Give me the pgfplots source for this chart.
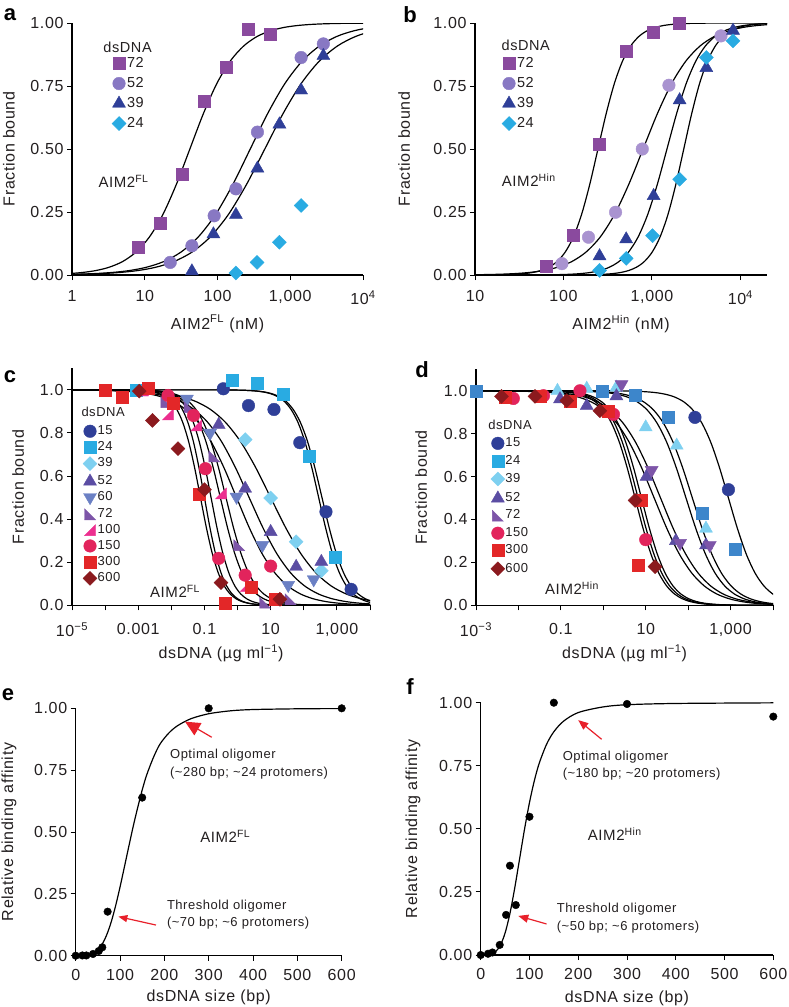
\documentclass[border=0pt]{standalone}
\usepackage{fontspec}
\setmainfont{Liberation Sans}[LetterSpace=4]
\usepackage{pgfplots}
\usepackage{pgfplotstable}
\pgfplotsset{compat=1.18}
\usetikzlibrary{arrows.meta}

\definecolor{pA}{HTML}{8A4A9E}
\definecolor{lvA}{HTML}{8878C3}
\definecolor{lvB}{HTML}{A993D0}
\definecolor{dB}{HTML}{2F3F98}
\definecolor{cy}{HTML}{29ABE2}
\definecolor{lc}{HTML}{7ED0F0}
\definecolor{p52}{HTML}{5B4DA3}
\definecolor{s60}{HTML}{6B80C4}
\definecolor{p72}{HTML}{7D55A8}
\definecolor{m100}{HTML}{EC2F8F}
\definecolor{c150}{HTML}{E2245C}
\definecolor{r300}{HTML}{E32728}
\definecolor{d600}{HTML}{8B1A1E}
\definecolor{b24d}{HTML}{3D86CB}
\definecolor{arr}{HTML}{E8202A}
\definecolor{txt}{HTML}{231F20}

\pgfdeclareplotmark{ltri}{%
 \pgfpathmoveto{\pgfqpoint{-\pgfplotmarksize}{\pgfplotmarksize}}%
 \pgfpathlineto{\pgfqpoint{-\pgfplotmarksize}{-\pgfplotmarksize}}%
 \pgfpathlineto{\pgfqpoint{\pgfplotmarksize}{-\pgfplotmarksize}}%
 \pgfpathclose\pgfusepathqfillstroke}
\pgfdeclareplotmark{rtri}{%
 \pgfpathmoveto{\pgfqpoint{\pgfplotmarksize}{\pgfplotmarksize}}%
 \pgfpathlineto{\pgfqpoint{\pgfplotmarksize}{-\pgfplotmarksize}}%
 \pgfpathlineto{\pgfqpoint{-\pgfplotmarksize}{-\pgfplotmarksize}}%
 \pgfpathclose\pgfusepathqfillstroke}

% logistic profile y = 1/(1+10^{-t}) (shape of the fitted curves)
\pgfplotstableread{
tt yy
-12 0
-4 0.0001
-3.5 0.000316
-3 0.000999
-2.75 0.00177
-2.5 0.00315
-2.25 0.00559
-2 0.0099
-1.75 0.01747
-1.5 0.0307
-1.25 0.0532
-1 0.0909
-0.75 0.151
-0.5 0.2403
-0.25 0.360
0 0.5
0.25 0.640
0.5 0.7597
0.75 0.849
1 0.9091
1.25 0.9468
1.5 0.9693
1.75 0.9825
2 0.9901
2.25 0.9944
2.5 0.99685
2.75 0.99823
3 0.9990
3.5 0.99968
4 0.9999
12 1
}\logitab

\newcommand{\fs}[1]{\fontsize{#1}{#1}\selectfont}

\pgfplotsset{
 panel/.style={scale only axis, axis lines*=left,
   axis line style={line width=1.1pt,-}, tick align=outside,
   major tick length=5pt, every tick/.style={line width=1pt,black},
   xminorticks=false, yminorticks=false, clip mode=individual,
   /pgf/number format/assume math mode=true,
   tick label style={font=\fs{16}, text=txt}, label style={font=\fs{16}, text=txt},
   ylabel style={anchor=center, rotate=0},
   xlabel style={anchor=center},
   legend cell align=left,
   legend style={draw=none, fill=none, inner sep=0pt, outer sep=0pt,
     anchor=north west, font=\fs{14.5}, text=txt}},
 fit/.style={black, line width=1.2pt, smooth, no markers, forget plot},
 SQ/.style={only marks, mark=square*, mark size=6pt, color=#1, mark options={draw=#1,fill=#1}},
 CI/.style={only marks, mark=*, mark size=6.3pt, color=#1, mark options={draw=#1,fill=#1}},
 TU/.style={only marks, mark=triangle*, mark size=7.5pt, color=#1, mark options={draw=#1,fill=#1}},
 TD/.style={only marks, mark=triangle*, mark size=7.5pt, color=#1, mark options={draw=#1,fill=#1,rotate=180}},
 DM/.style={only marks, mark=diamond*, mark size=7pt, color=#1, mark options={draw=#1,fill=#1,xscale=1.333}},
 LT/.style={only marks, mark=ltri, mark size=5.5pt, color=#1, mark options={draw=#1,fill=#1}},
 RT/.style={only marks, mark=rtri, mark size=5.5pt, color=#1, mark options={draw=#1,fill=#1}},
 mkleg/.style={legend image code/.code={\draw[mark repeat=2,mark phase=2,##1] plot coordinates {(0pt,0pt)(6pt,0pt)(12pt,0pt)};}},
 labpos/.style n args={3}{ylabel style={at={(axis description cs:#1,0.5)}},
   xlabel style={at={(axis description cs:0.5,#2)}},
   xticklabel style={yshift=#3}},
}
% x of panels a-d is log10 of the concentration
\newcommand{\up}[2]{\addplot[fit] table[x expr={#1+(\thisrow{tt})/#2}, y=yy] {\logitab};}
\newcommand{\down}[2]{\addplot[fit] table[x expr={#1-(\thisrow{tt})/#2}, y=yy] {\logitab};}

\begin{document}
\begin{tikzpicture}
\useasboundingbox (0,0) rectangle (788pt,-1007pt);

% ---------------- panel a ----------------
\begin{axis}[panel, at={(72pt,-275pt)}, anchor=south west, width=291pt, height=252pt,
  labpos={-0.2165}{-0.194}{-7pt},
  xmin=0, xmax=4, ymin=0, ymax=1,
  xtick={0,1,2,3,4}, xticklabels={1,10,100,{1,000},10\textsuperscript{4}},
  ytick={0,0.25,0.5,0.75,1}, yticklabels={0.00,0.25,0.50,0.75,1.00},
  xlabel={AIM2\textsuperscript{FL} (nM)}, ylabel={Fraction bound},
  legend style={at={(0.1375,0.869)}, nodes={inner sep=1pt, text height=10pt, text depth=3pt}, row sep=5pt}]
\up{1.62}{1.35}
\up{2.45}{1.05}
\up{2.65}{1.0}
\addplot[SQ=pA, forget plot] coordinates {(0.914,0.111) (1.215,0.206) (1.516,0.401) (1.817,0.69) (2.117,0.826) (2.418,0.974) (2.72,0.954)};
\addplot[CI=lvA, forget plot] coordinates {(1.35,0.050) (1.648,0.116) (1.954,0.235) (2.253,0.342) (2.549,0.567) (3.149,0.863) (3.455,0.917)};
\addplot[TU=dB, forget plot] coordinates {(1.648,0.015) (1.944,0.162) (2.253,0.239) (2.549,0.423) (2.851,0.598) (3.149,0.733) (3.455,0.87)};
\addplot[DM=cy, forget plot] coordinates {(2.253,0.008) (2.544,0.05) (2.851,0.13) (3.149,0.276)};
\addlegendimage{SQ=pA, mkleg}\addlegendentry{72}
\addlegendimage{CI=lvA, mkleg}\addlegendentry{52}
\addlegendimage{TU=dB, mkleg}\addlegendentry{39}
\addlegendimage{DM=cy, mkleg}\addlegendentry{24}
\node[anchor=west, font=\fs{14.5}, text=txt] at (rel axis cs:0.096,0.905) {dsDNA};
\node[anchor=west, font=\fs{15}, text=txt] at (axis cs:0.316,0.37) {AIM2\textsuperscript{FL}};
\end{axis}

% ---------------- panel b ----------------
\begin{axis}[panel, at={(475pt,-275pt)}, anchor=south west, width=292pt, height=252pt,
  labpos={-0.243}{-0.194}{-7pt},
  xmin=1, xmax=4.301, ymin=0, ymax=1,
  xtick={1,2,3,4}, xticklabels={10,100,{1,000},10\textsuperscript{4}},
  ytick={0,0.25,0.5,0.75,1}, yticklabels={0.00,0.25,0.50,0.75,1.00},
  xlabel={AIM2\textsuperscript{Hin} (nM)}, ylabel={Fraction bound},
  legend style={at={(0.0925,0.869)}, nodes={inner sep=1pt, text height=10pt, text depth=3pt}, row sep=5pt}]
\up{2.39}{2.7}
\up{2.9}{1.55}
\up{3.17}{2.3}
\up{3.36}{2.8}
\addplot[SQ=pA, forget plot] coordinates {(1.803,0.034) (2.107,0.158) (2.408,0.52) (2.709,0.889) (3.019,0.964) (3.306,1.0)};
\addplot[CI=lvB, forget plot] coordinates {(1.982,0.045) (2.283,0.150) (2.589,0.249) (2.891,0.5) (3.192,0.753) (3.781,0.949)};
\addplot[TU=dB, forget plot] coordinates {(2.408,0.075) (2.709,0.142) (3.019,0.314) (3.313,0.694) (3.615,0.822) (3.917,0.97)};
\addplot[DM=cy, forget plot] coordinates {(2.408,0.018) (2.709,0.066) (3.007,0.156) (3.313,0.38) (3.615,0.863) (3.917,0.929)};
\addlegendimage{SQ=pA, mkleg}\addlegendentry{72}
\addlegendimage{CI=lvA, mkleg}\addlegendentry{52}
\addlegendimage{TU=dB, mkleg}\addlegendentry{39}
\addlegendimage{DM=cy, mkleg}\addlegendentry{24}
\node[anchor=west, font=\fs{14.5}, text=txt] at (rel axis cs:0.079,0.913) {dsDNA};
\node[anchor=west, font=\fs{15}, text=txt] at (axis cs:1.263,0.377) {AIM2\textsuperscript{Hin}};
\end{axis}

% ---------------- panel c ----------------
\begin{axis}[panel, at={(72pt,-605.3pt)}, anchor=south west, width=298pt, height=237pt,
  labpos={-0.181}{-0.2025}{-9pt},
  xmin=-5, xmax=4, ymin=0, ymax=1.1,
  xtick={-5,-4,-3,-2,-1,0,1,2,3,4},
  xticklabels={10\textsuperscript{−5},,0.001,,0.1,,10,,{1,000},},
  ytick={0,0.2,0.4,0.6,0.8,1}, yticklabels={0.0,0.2,0.4,0.6,0.8,1.0},
  xlabel={dsDNA (µg ml\textsuperscript{−1})}, ylabel={Fraction bound},
  legend style={at={(0.037,0.761)}, font=\fs{13}, nodes={inner sep=0.5pt, text height=9pt, text depth=2.5pt}, row sep=3.3pt}]
\down{2.55}{1.15}
\down{2.45}{1.2}
\down{1.0}{0.55}
\down{0.35}{0.6}
\down{-0.03}{0.65}
\down{-0.35}{1.1}
\down{-0.52}{1.15}
\down{-0.8}{1.4}
\down{-1.12}{1.4}
\down{-1.0}{1.5}
\addplot[CI=dB, forget plot] coordinates {(-0.43,1.005) (0.33,0.927) (1.10,0.909) (1.88,0.755) (2.67,0.434) (3.43,0.074)};
\addplot[SQ=cy, forget plot] coordinates {(-3.05,0.997) (-0.15,1.046) (0.60,1.03) (1.38,0.981) (2.15,0.691) (2.95,0.225)};
\addplot[DM=lc, forget plot] coordinates {(0.23,0.769) (1.0,0.498) (1.77,0.295) (2.53,0.16)};
\addplot[TU=p52, forget plot] coordinates {(-0.57,0.838) (0.23,0.542) (1.0,0.341) (1.77,0.179) (2.53,0.202)};
\addplot[TD=s60, forget plot] coordinates {(-1.53,0.958) (-0.83,0.80) (-0.03,0.503) (0.75,0.279) (1.53,0.094) (2.30,0.12)};
\addplot[LT=p72, forget plot] coordinates {(-2.15,0.943) (-1.45,0.92) (-0.7,0.691) (0.05,0.279) (0.83,0.012) (1.6,0.028)};
\addplot[RT=m100, forget plot] coordinates {(-2.86,0.997) (-2.1,0.886) (-1.25,0.835) (-0.5,0.519) (0.25,0.09)};
\addplot[CI=c150, forget plot] coordinates {(-2.1,0.974) (-1.33,0.881) (-0.97,0.634) (-0.57,0.218) (0.23,0.14) (1.0,0.182)};
\addplot[SQ=r300, forget plot] coordinates {(-4.0,0.997) (-3.47,0.966) (-2.7,1.009) (-1.95,0.938) (-1.17,0.515) (-0.37,0.012) (0.4,0.086) (1.13,0.028)};
\addplot[DM=d600, forget plot] coordinates {(-2.97,0.994) (-2.57,0.858) (-1.8,0.727) (-1.0,0.537) (-0.5,0.105) (1.28,0.028)};
\addlegendimage{CI=dB, mkleg}\addlegendentry{15}
\addlegendimage{SQ=cy, mkleg}\addlegendentry{24}
\addlegendimage{DM=lc, mkleg}\addlegendentry{39}
\addlegendimage{TU=p52, mkleg}\addlegendentry{52}
\addlegendimage{TD=s60, mkleg}\addlegendentry{60}
\addlegendimage{LT=p72, mkleg}\addlegendentry{72}
\addlegendimage{RT=m100, mkleg}\addlegendentry{100}
\addlegendimage{CI=c150, mkleg}\addlegendentry{150}
\addlegendimage{SQ=r300, mkleg}\addlegendentry{300}
\addlegendimage{DM=d600, mkleg}\addlegendentry{600}
\node[anchor=west, font=\fs{13}, text=txt] at (rel axis cs:0.02,0.816) {dsDNA};
\node[anchor=west, font=\fs{15}, text=txt] at (axis cs:-2.75,0.063) {AIM2\textsuperscript{FL}};
\end{axis}

% ---------------- panel d ----------------
\begin{axis}[panel, at={(476pt,-605.3pt)}, anchor=south west, width=297pt, height=236pt,
  labpos={-0.185}{-0.203}{-9pt},
  xmin=-3, xmax=4, ymin=0, ymax=1.1,
  xtick={-3,-2,-1,0,1,2,3,4},
  xticklabels={10\textsuperscript{−3},,0.1,,10,,{1,000},},
  ytick={0,0.2,0.4,0.6,0.8,1}, yticklabels={0.0,0.2,0.4,0.6,0.8,1.0},
  xlabel={dsDNA (µg ml\textsuperscript{−1})}, ylabel={Fraction bound},
  legend style={at={(0.05,0.713)}, font=\fs{13}, nodes={inner sep=0.5pt, text height=9pt, text depth=2.5pt}, row sep=4.9pt}]
\down{2.95}{1.2}
\down{2.1}{1.1}
\down{1.95}{1.1}
\down{1.2}{0.85}
\down{1.35}{0.85}
\down{0.9}{1.35}
\down{0.82}{1.35}
\down{0.75}{1.35}
\addplot[CI=dB, forget plot] coordinates {(2.16,0.876) (2.95,0.539)};
\addplot[SQ=b24d, forget plot] coordinates {(-3,0.997) (-0.015,0.997) (0.75,0.981) (1.53,0.879) (2.32,0.43) (3.10,0.262)};
\addplot[TU=lc, forget plot] coordinates {(-1.08,1.0) (-0.39,1.01) (0.31,1.015) (1.0,0.83) (1.73,0.745) (2.42,0.358)};
\addplot[TU=p52, forget plot] coordinates {(-1.02,0.961) (-0.39,0.93) (0.31,0.975) (1.02,0.6) (1.71,0.3) (2.42,0.28)};
\addplot[TD=p72, forget plot] coordinates {(0.43,1.03) (1.14,0.63) (1.81,0.29) (2.51,0.28)};
\addplot[CI=c150, forget plot] coordinates {(-2.12,0.964) (-1.41,0.977) (-0.55,1.0) (0.24,0.89) (1.0,0.306)};
\addplot[SQ=r300, forget plot] coordinates {(-2.32,0.969) (-1.49,0.974) (-0.79,0.95) (0.12,0.907) (0.9,0.489) (0.83,0.187)};
\addplot[DM=d600, forget plot] coordinates {(-2.4,0.974) (-1.61,0.974) (-0.86,0.954) (-0.08,0.907) (0.75,0.489) (1.22,0.18)};
\addlegendimage{CI=dB, mkleg}\addlegendentry{15}
\addlegendimage{SQ=cy, mkleg}\addlegendentry{24}
\addlegendimage{DM=lc, mkleg}\addlegendentry{39}
\addlegendimage{TU=p52, mkleg}\addlegendentry{52}
\addlegendimage{LT=p72, mkleg}\addlegendentry{72}
\addlegendimage{CI=c150, mkleg}\addlegendentry{150}
\addlegendimage{SQ=r300, mkleg}\addlegendentry{300}
\addlegendimage{DM=d600, mkleg}\addlegendentry{600}
\node[anchor=west, font=\fs{13}, text=txt] at (rel axis cs:0.03,0.764) {dsDNA};
\node[anchor=west, font=\fs{15}, text=txt] at (axis cs:-1.454,0.079) {AIM2\textsuperscript{Hin}};
\end{axis}

% ---------------- panel e ----------------
\begin{axis}[panel, at={(75.7pt,-955.7pt)}, anchor=south west, width=266pt, height=247.4pt,
  labpos={-0.251}{-0.17}{-5pt},
  xmin=0, xmax=600, ymin=0, ymax=1,
  xtick={0,100,200,300,400,500,600}, xticklabels={0,100,200,300,400,500,600},
  ytick={0,0.25,0.5,0.75,1}, yticklabels={0.00,0.25,0.50,0.75,1.00},
  xlabel={dsDNA size (bp)}, ylabel={Relative binding affinity}]
\addplot[fit] coordinates {(0,0) (20,0.0006) (40,0.0098) (50,0.0235) (60,0.0474) (70,0.0845) (80,0.136) (90,0.2015) (100,0.2777) (110,0.360) (120,0.4435) (130,0.525) (140,0.60) (150,0.67) (160,0.73) (175,0.80) (190,0.855) (210,0.90) (230,0.93) (260,0.958) (300,0.978) (350,0.99) (400,0.995) (500,0.998) (600,0.999)};
\addplot[CI=black, mark size=3.8pt] coordinates {(0,0) (15,0.001) (24,0.001) (39,0.007) (52,0.019) (60,0.034) (72,0.178) (150,0.639) (300,1.0) (600,1.0)};
\draw[arr, line width=1.2pt, -{Triangle[length=15pt,width=14pt]}] (axis cs:306.8,0.883) -- (axis cs:246.6,0.946);
\draw[arr, line width=1.2pt, -{Triangle[length=9pt,width=7pt]}] (axis cs:181,0.124) -- (axis cs:96.2,0.158);
\node[anchor=west, font=\fs{13}, text=txt] at (axis cs:205,0.811) {Optimal oligomer};
\node[anchor=west, font=\fs{13}, text=txt] at (axis cs:205,0.737) {(\textasciitilde280 bp; \textasciitilde24 protomers)};
\node[anchor=west, font=\fs{15}, text=txt] at (axis cs:273,0.481) {AIM2\textsuperscript{FL}};
\node[anchor=west, font=\fs{13}, text=txt] at (axis cs:198,0.2) {Threshold oligomer};
\node[anchor=west, font=\fs{13}, text=txt] at (axis cs:198,0.131) {(\textasciitilde70 bp; \textasciitilde6 protomers)};
\end{axis}

% ---------------- panel f ----------------
\begin{axis}[panel, at={(480.7pt,-955pt)}, anchor=south west, width=292.6pt, height=252.3pt,
  labpos={-0.231}{-0.17}{-5pt},
  xmin=0, xmax=600, ymin=0, ymax=1,
  xtick={0,100,200,300,400,500,600}, xticklabels={0,100,200,300,400,500,600},
  ytick={0,0.25,0.5,0.75,1}, yticklabels={0.00,0.25,0.50,0.75,1.00},
  xlabel={dsDNA size (bp)}, ylabel={Relative binding affinity}]
\addplot[fit] coordinates {(0,0) (10,0.0002) (20,0.0024) (30,0.0122) (40,0.0375) (50,0.087) (60,0.165) (70,0.268) (80,0.384) (90,0.5) (100,0.604) (110,0.691) (120,0.760) (135,0.835) (150,0.885) (170,0.927) (200,0.961) (250,0.983) (300,0.992) (400,0.997) (600,0.9995)};
\addplot[CI=black, mark size=3.8pt] coordinates {(0,0) (15,0.005) (24,0.01) (39,0.04) (52,0.159) (60,0.354) (72,0.198) (100,0.548) (150,1.0) (300,0.995) (600,0.945)};
\draw[arr, line width=1.2pt, -{Triangle[length=10pt,width=8pt]}] (axis cs:248,0.855) -- (axis cs:200,0.931);
\draw[arr, line width=1.2pt, -{Triangle[length=10pt,width=8pt]}] (axis cs:135,0.123) -- (axis cs:77,0.155);
\node[anchor=west, font=\fs{13}, text=txt] at (axis cs:161,0.786) {Optimal oligomer};
\node[anchor=west, font=\fs{13}, text=txt] at (axis cs:161,0.716) {(\textasciitilde180 bp; \textasciitilde20 protomers)};
\node[anchor=west, font=\fs{15}, text=txt] at (axis cs:212.5,0.48) {AIM2\textsuperscript{Hin}};
\node[anchor=west, font=\fs{13}, text=txt] at (axis cs:149,0.181) {Threshold oligomer};
\node[anchor=west, font=\fs{13}, text=txt] at (axis cs:149,0.112) {(\textasciitilde50 bp; \textasciitilde6 protomers)};
\end{axis}

% panel letters
\node[font=\bfseries\fs{22}, text=black] at (10pt,-15pt) {a};
\node[font=\bfseries\fs{22}, text=black] at (410pt,-15pt) {b};
\node[font=\bfseries\fs{22}, text=black] at (10pt,-377pt) {c};
\node[font=\bfseries\fs{22}, text=black] at (422pt,-370pt) {d};
\node[font=\bfseries\fs{22}, text=black] at (8pt,-695pt) {e};
\node[font=\bfseries\fs{22}, text=black] at (410pt,-687pt) {f};
\end{tikzpicture}
\end{document}
